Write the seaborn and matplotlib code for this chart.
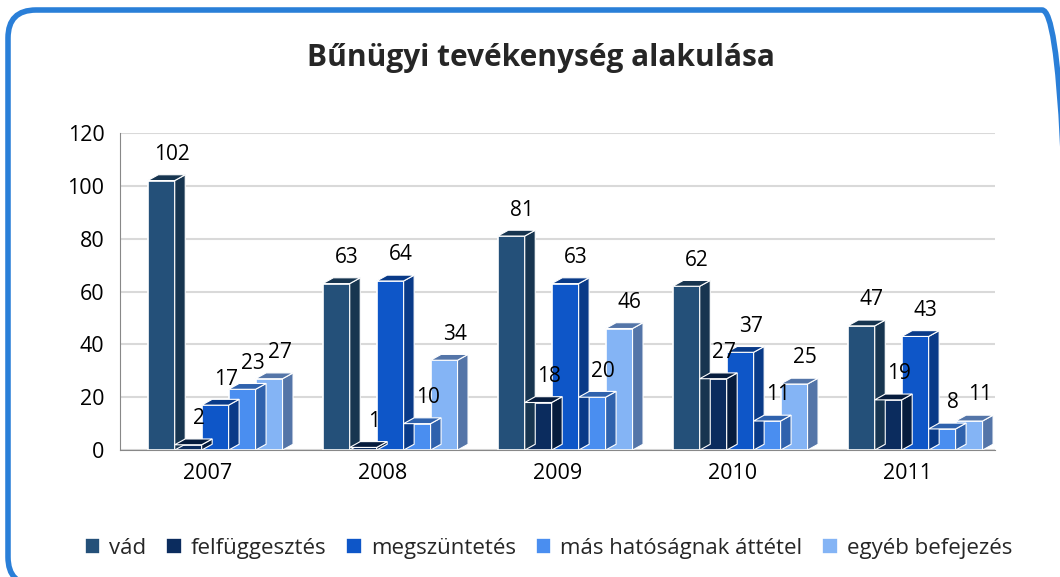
import pandas as pd
import seaborn as sns
import matplotlib.pyplot as plt
from matplotlib.patches import FancyBboxPatch, Polygon

years = ["2007", "2008", "2009", "2010", "2011"]
series = ["vád", "felfüggesztés", "megszüntetés", "más hatóságnak áttétel", "egyéb befejezés"]
vad = [102, 63, 81, 62, 47]
felfuggesztes = [2, 1, 18, 27, 19]
megszuntetes = [17, 64, 63, 37, 43]
attetel = [23, 10, 20, 11, 8]
egyeb = [27, 34, 46, 25, 11]
colors = ["#245079", "#0B2C5E", "#0E56C8", "#4A8EF0", "#84B4F5"]
side_colors = ["#173550", "#061c3d", "#093a88", "#2f62ad", "#5475a8"]

rows = []
for name, vals in zip(series, [vad, felfuggesztes, megszuntetes, attetel, egyeb]):
    for y, v in zip(years, vals):
        rows.append(dict(year=y, kind=name, value=v))
data = pd.DataFrame(rows)

sns.set_style("white")
plt.rcParams["font.family"] = ["Open Sans", "DejaVu Sans"]

fig = plt.figure(figsize=(10.6, 5.77), dpi=100)
ax = fig.add_axes([0.113, 0.22, 0.8255, 0.5495])

sns.barplot(data=data, x="year", y="value", hue="kind", palette=colors, saturation=1,
            width=0.77, ax=ax, legend=True, edgecolor="white", linewidth=1.2)

# fake 3D depth on each bar, derived from the bar patches
shift = 0.045
dx, dy = 0.06, 2.2
for c, cont in enumerate(ax.containers):
    for bar, v in zip(cont.patches, cont.datavalues):
        bar.set_x(bar.get_x() + shift)
        x0 = bar.get_x() + bar.get_width()
        h = bar.get_height()
        ax.add_patch(Polygon([(x0, 0), (x0 + dx, dy), (x0 + dx, h + dy), (x0, h)],
                             closed=True, facecolor=side_colors[c], edgecolor="white", lw=0.8, zorder=2))
        ax.add_patch(Polygon([(bar.get_x(), h), (bar.get_x() + dx, h + dy), (x0 + dx, h + dy), (x0, h)],
                             closed=True, facecolor=side_colors[c], edgecolor="white", lw=0.8, zorder=2))
        ax.annotate(str(int(v)), (bar.get_x() + bar.get_width() / 2 + dx, h + dy),
                    xytext=(0, 7), textcoords="offset points", ha="center", va="bottom",
                    fontsize=15, color="black")

ax.set_ylim(0, 120)
ax.set_yticks(range(0, 121, 20))
ax.set_xlim(-0.5, 4.5)
ax.yaxis.grid(True, color="#d9d9d9", lw=1.5)
ax.set_axisbelow(True)
ax.set_xlabel("")
ax.set_ylabel("")
for s in ["top", "right"]:
    ax.spines[s].set_visible(False)
ax.spines["left"].set_color("#888888")
ax.spines["bottom"].set_color("#888888")
ax.tick_params(axis="both", labelsize=15.5, colors="black", length=5, width=1, direction="out")
ax.tick_params(axis="y", color="#888888", pad=6)
ax.tick_params(axis="x", length=0, pad=9)
ax.set_xticks([-0.5, 0.5, 1.5, 2.5, 3.5, 4.5], minor=True)
ax.tick_params(axis="x", which="minor", length=6, color="#888888")

handles, labels = ax.get_legend_handles_labels()
ax.legend(handles, labels, loc="center", bbox_to_anchor=(0.49, -0.31), ncol=5,
          frameon=False, fontsize=16, handlelength=0.7, handleheight=0.7,
          handletextpad=0.4, columnspacing=0.9)

fig.text(0.51, 0.9, "Bűnügyi tevékenység alakulása", ha="center", va="center",
         fontsize=21.5, fontweight="bold")

# rounded blue frame, running off the right and bottom edges
border = FancyBboxPatch((8, -8), 1062, 575, boxstyle="round,pad=0,rounding_size=28",
                        transform=None, facecolor="none",
                        edgecolor="#2A7FD8", lw=4, clip_on=False)
fig.add_artist(border)

fig.savefig("out.png", dpi=100)
